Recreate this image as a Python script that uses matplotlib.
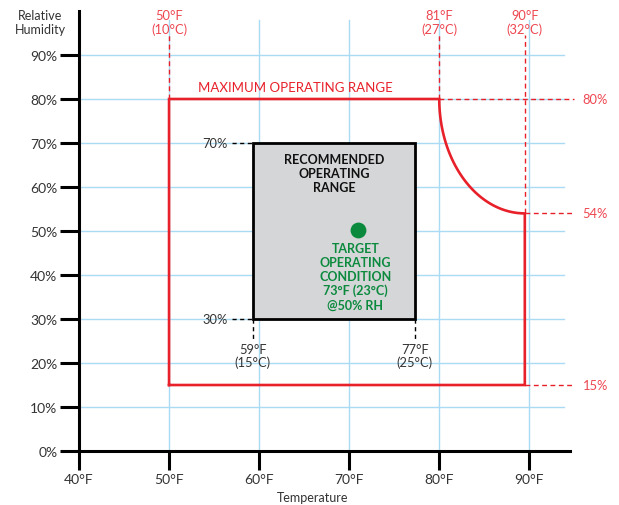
import numpy as np
import matplotlib
matplotlib.use("Agg")
import matplotlib.pyplot as plt

plt.rcParams['font.family'] = ['Lato', 'DejaVu Sans']

## DATA ##
temp_ticks = [40, 50, 60, 70, 80, 90]
temp_labels = ['40°F', '50°F', '60°F', '70°F', '80°F', '90°F']
rh_ticks = [0, 10, 20, 30, 40, 50, 60, 70, 80, 90]
rh_labels = ['0%', '10%', '20%', '30%', '40%', '50%', '60%', '70%', '80%', '90%']

# maximum operating range (red outline)
max_t_low, max_t_knee, max_t_high = 50, 80, 89.5
max_rh_low, max_rh_knee, max_rh_high = 15, 54, 80
max_top_labels = ['50°F\n(10°C)', '81°F\n(27°C)', '90°F\n(32°C)']
max_right_labels = ['80%', '54%', '15%']

# recommended operating range (grey box)
rec_t_low, rec_t_high = 59.3, 77.3
rec_rh_low, rec_rh_high = 30, 70
rec_bottom_labels = ['59°F\n(15°C)', '77°F\n(25°C)']
rec_left_labels = ['70%', '30%']

# target point
target_t, target_rh = 71, 50.3

red = '#e8202a'
red_txt = '#ee4650'
grid_c = '#a9dcf4'
green = '#0b8a3e'
txt_c = '#333333'

fig = plt.figure(figsize=(6.19, 5.06), dpi=100)
ax = fig.add_axes([0.1276, 0.1067, 0.793, 0.8696])
ax.set_xlim(40, 94.5)
ax.set_ylim(0, 100)

## GRID ##
for t in temp_ticks[1:]:
    ax.plot([t, t], [0, 98], color=grid_c, lw=1, zorder=0)
for r in rh_ticks[1:]:
    ax.plot([40, 93.8], [r, r], color=grid_c, lw=1, zorder=0)

## MAX RANGE ##
th = np.linspace(0, np.pi / 2, 60)
cx = max_t_high - (max_t_high - max_t_knee) * np.cos(th)
cy = max_rh_high - (max_rh_high - max_rh_knee) * np.sin(th)
xs = np.concatenate([[max_t_low, max_t_low], cx, [max_t_high, max_t_low]])
ys = np.concatenate([[max_rh_low, max_rh_high], cy, [max_rh_low, max_rh_low]])
ax.plot(xs, ys, color=red, lw=1.9, zorder=3, solid_joinstyle='miter')

dash = dict(color=red, lw=1.0, ls=(0, (3.5, 2.5)), zorder=2)
ax.plot([max_t_low, max_t_low], [max_rh_high, 94.5], **dash)
ax.plot([max_t_knee, max_t_knee], [max_rh_high, 94.5], **dash)
ax.plot([max_t_high, max_t_high], [max_rh_knee, 94.5], **dash)
for r in [max_rh_high, max_rh_knee, max_rh_low]:
    x0 = max_t_knee if r == max_rh_high else max_t_high
    ax.plot([x0, 95.0], [r, r], clip_on=False, **dash)
for t, lab in zip([max_t_low, max_t_knee, max_t_high], max_top_labels):
    ax.text(t, 94.6, lab, color=red_txt, fontsize=9.3, ha='center', va='bottom',
            linespacing=1.1)
for r, lab in zip([max_rh_high, max_rh_knee, max_rh_low], max_right_labels):
    ax.text(95.9, r, lab, color=red_txt, fontsize=9.3, ha='left', va='center',
            clip_on=False)
ax.text(53.2, 82.7, 'MAXIMUM OPERATING RANGE', color=red, fontsize=9.5,
        ha='left', va='center')

## RECOMMENDED RANGE ##
ax.add_patch(plt.Rectangle((rec_t_low, rec_rh_low), rec_t_high - rec_t_low,
                           rec_rh_high - rec_rh_low, facecolor='#d5d6d8',
                           edgecolor='black', lw=2, zorder=4))
kdash = dict(color='black', lw=1.0, ls=(0, (3, 2.5)), zorder=3)
for r, lab in zip([rec_rh_high, rec_rh_low], rec_left_labels):
    ax.plot([57.0, rec_t_low], [r, r], **kdash)
    ax.text(56.5, r, lab, color=txt_c, fontsize=9.3, ha='right', va='center')
for t, lab in zip([rec_t_low, rec_t_high], rec_bottom_labels):
    ax.plot([t, t], [rec_rh_low, 25.5], **kdash)
    ax.text(t, 24.6, lab, color=txt_c, fontsize=9.3, ha='center', va='top',
            linespacing=1.1)
ax.text(68.3, 67.8, 'RECOMMENDED\nOPERATING\nRANGE', color='#111111',
        fontsize=9, fontweight='bold', ha='center', va='top',
        linespacing=1.2, zorder=5)

## TARGET ##
ax.scatter([target_t], [target_rh], s=130, color=green, zorder=6, lw=0)
ax.text(70.7, 47.6, 'TARGET\nOPERATING\nCONDITION\n73°F (23°C)\n@50% RH',
        color=green, fontsize=9, fontweight='bold', ha='center', va='top',
        linespacing=1.2, zorder=6)

## AXES ##
for s in ['top', 'right']:
    ax.spines[s].set_visible(False)
for s in ['left', 'bottom']:
    ax.spines[s].set_linewidth(2.2)
    ax.spines[s].set_zorder(7)
ax.set_xticks(temp_ticks)
ax.set_xticklabels(temp_labels)
ax.set_yticks(rh_ticks)
ax.set_yticklabels(rh_labels)
ax.tick_params(length=13.5, width=2.2, color='black', labelcolor=txt_c,
               labelsize=10, pad=2)
fig.text(40 / 619, 1 - 23 / 506, 'Relative\nHumidity', color=txt_c,
         fontsize=9, ha='center', va='center', linespacing=1.1)
fig.text(313 / 619, 1 - 498 / 506, 'Temperature', color=txt_c, fontsize=9,
         ha='center', va='center')

fig.savefig('out.png', dpi=100)
